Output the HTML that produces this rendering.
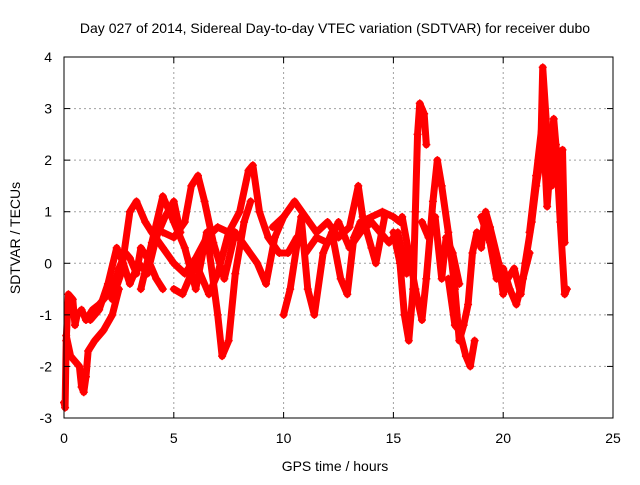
<!DOCTYPE html>
<html><head><meta charset="utf-8"><style>
body{margin:0;background:#fff;}
svg text{font-family:"Liberation Sans",sans-serif;font-size:14px;fill:#000;}
</style></head><body>
<svg id="chart" width="640" height="480">
<text x="335" y="33" text-anchor="middle">Day 027 of 2014, Sidereal Day-to-day VTEC variation (SDTVAR) for receiver dubo</text>
<g id="grid"></g>
<g id="series"></g>
<rect x="64" y="57" width="549" height="361" fill="none" stroke="#000" stroke-width="1"/>
<g id="axes"></g>
<text x="335" y="471" text-anchor="middle">GPS time / hours</text>
<text transform="translate(20,238) rotate(-90)" text-anchor="middle">SDTVAR / TECUs</text>
</svg>
<script>
const xTicks=[0,5,10,15,20,25];
const yTicks=[-3,-2,-1,0,1,2,3,4];
const traceA=[[0,-2.7],[0.05,-2.8],[0.1,-1.5],[0.2,-0.6],[0.4,-0.7],[0.5,-1.2],[0.6,-1.0],[0.8,-0.9],[1.0,-1.1],[1.3,-0.9],[1.6,-0.8],[2.0,-0.6],[2.3,-0.4],[2.5,-0.1],[2.8,0.2],[3.0,0.1],[3.3,-0.2],[3.5,0.3],[3.8,0.1],[4.2,-0.3],[4.5,-0.5]];
const traceB=[[0.1,-1.4],[0.3,-1.8],[0.5,-1.9],[0.7,-2.0],[0.8,-2.4],[0.9,-2.5],[1.0,-2.2],[1.1,-1.7],[1.4,-1.5],[1.8,-1.3],[2.2,-1.0],[2.5,-0.5]];
const traceC=[[2.2,-0.7],[2.6,-0.2],[3.0,1.0],[3.3,1.2],[3.7,0.8],[4.0,0.6],[4.5,0.3],[5,0.0],[5.5,-0.2],[6,0.1],[6.5,0.5],[7,0.7],[7.5,0.6],[8,1.0],[8.4,1.8],[8.6,1.9],[8.9,1.0],[9.3,0.5],[9.8,0.2],[10.2,0.2],[10.6,0.5]];
const traceD=[[3.5,-0.5],[4,0.4],[4.5,1.3],[5,0.8],[5.5,0.3],[6,-0.5],[6.5,0.6],[7,-1.0],[7.2,-1.8],[7.5,-1.5],[7.8,-0.2],[8.2,0.8],[8.5,1.2]];
const traceE=[[4.5,0.6],[5,0.5],[5.5,0.8],[5.8,1.5],[6.1,1.7],[6.4,1.2],[6.8,0.4],[7.3,-0.3],[7.8,0.6],[8.3,0.3],[8.8,0.0],[9.2,-0.4],[9.6,0.5],[10,0.9]];
const traceF=[[5,-0.5],[5.4,-0.6],[6,0],[6.6,-0.6],[7,-0.2],[7.5,0.6]];
const traceG=[[10,-1],[10.3,-0.5],[10.8,0.9],[11.1,-0.5],[11.4,-1.0],[11.8,0.2],[12.2,0.6],[12.6,-0.3],[12.9,-0.6],[13.2,0.5],[13.5,0.8],[14,0.9],[14.5,1.0],[15,0.9],[15.3,0.8]];
const traceH=[[9.5,0.7],[10,0.9],[10.5,1.2],[11,0.9],[11.5,0.6],[12,0.8],[12.5,0.5],[13,0.7],[13.4,1.5],[13.6,0.9],[14,0.3],[14.2,0.0],[14.6,0.9]];
const traceI=[[15,0.6],[15.3,0.0],[15.5,-1.0],[15.7,-1.5],[15.9,-0.5],[16,1.0],[16.1,2.5],[16.2,3.1],[16.4,2.9],[16.5,2.3]];
const traceJ=[[15.4,0.9],[15.7,0.2],[16,-0.5],[16.3,-1.1],[16.5,-0.3],[16.8,1.2],[17.0,2.0],[17.2,1.5],[17.5,0.6],[17.8,-0.5],[18,-1.5],[18.2,-1.2],[18.4,-0.8],[18.6,0.2],[18.8,0.6],[19,0.3],[19.2,1.0],[19.4,0.7],[19.8,0.0],[20,-0.6],[20.2,-0.3],[20.5,-0.1],[20.8,-0.6],[21,0.0],[21.3,0.8],[21.5,1.5],[21.7,2.0],[21.8,3.8],[22,2.5],[22.2,1.5],[22.4,2.3],[22.6,0.8],[22.8,-0.6],[22.9,-0.5]];
const traceK=[[17.5,-0.3],[17.8,-1.2],[18,-1.3],[18.3,-1.8],[18.5,-2.0],[18.7,-1.5]];
const traceL=[[16.3,0.8],[16.6,0.5],[16.9,0.9],[17.2,-0.3],[17.4,0.5],[17.7,0.2],[18.0,-0.4]];
const traceM=[[21.2,0.6],[21.5,1.7],[21.8,2.8],[22.0,1.1],[22.3,2.8],[22.5,1.8],[22.7,2.2],[22.8,0.4]];
const traceN=[[1.2,-1.1],[1.6,-0.9],[2.0,-0.4],[2.4,0.3],[2.7,0.0],[3.0,-0.4],[3.4,0.0],[3.8,-0.2],[4.2,0.5],[4.6,0.9],[5.0,1.2],[5.3,0.6]];
const traceO=[[11.0,0.2],[11.5,0.5],[12.0,0.4],[12.5,0.8],[13.0,0.3],[13.5,0.6],[14.0,0.8],[14.4,0.6],[14.8,0.4],[15.2,0.6],[15.6,-0.2]];
const traceP=[[19.0,0.9],[19.4,0.4],[19.7,-0.3],[20.0,-0.1],[20.3,-0.5],[20.6,-0.8],[20.9,-0.3],[21.2,0.2]];
const traces=[traceA,traceB,traceC,traceD,traceE,traceF,traceG,traceH,traceI,traceJ,traceK,traceL,traceM,traceN,traceO,traceP];
const X0=64,X1=613,Y0=418,Y1=57;
function xs(v){return X0+(v-0)/(25-0)*(X1-X0);}
function ys(v){return Y0-(v-(-3))/(4-(-3))*(Y0-Y1);}
const NS='http://www.w3.org/2000/svg';
const grid=document.getElementById('grid'),axes=document.getElementById('axes'),ser=document.getElementById('series');
function mk(t,a,p){const e=document.createElementNS(NS,t);for(const k in a)e.setAttribute(k,a[k]);p.appendChild(e);return e;}
xTicks.forEach(v=>{const x=xs(v);
 if(v>0&&v<25){const l=mk('line',{x1:x,x2:x,y1:Y1,y2:Y0,stroke:'#a0a0a0','stroke-dasharray':'2,3'},grid);
 
 }
 mk('line',{x1:x,x2:x,y1:Y0,y2:Y0-6,stroke:'#000'},axes);
 mk('line',{x1:x,x2:x,y1:Y1,y2:Y1+6,stroke:'#000'},axes);
 const t=mk('text',{x:x,y:443,'text-anchor':'middle'},axes);t.textContent=v;
 
 });
yTicks.forEach(v=>{const y=ys(v);
 if(v>-3&&v<4){const l=mk('line',{x1:X0,x2:X1,y1:y,y2:y,stroke:'#a0a0a0','stroke-dasharray':'2,3'},grid);
 
 }
 mk('line',{x1:X0,x2:X0+6,y1:y,y2:y,stroke:'#000'},axes);
 mk('line',{x1:X1,x2:X1-6,y1:y,y2:y,stroke:'#000'},axes);
 const t=mk('text',{x:52,y:y+5,'text-anchor':'end'},axes);t.textContent=v;
 
 });
traces.forEach((tr,i)=>{
 const pts=tr.map(p=>xs(p[0])+','+ys(p[1])).join(' ');
 const pl=mk('polyline',{points:pts,fill:'none',stroke:'#ff0000','stroke-width':7,'stroke-linejoin':'round','stroke-linecap':'round'},ser);
 
 
 tr.forEach(p=>{const x=xs(p[0]),y=ys(p[1]);
  const m=mk('path',{d:`M${x-4},${y}H${x+4}M${x},${y-4}V${y+4}`,stroke:'#ff0000','stroke-width':1.5},ser);
  
  });
});
</script>
</body></html>
